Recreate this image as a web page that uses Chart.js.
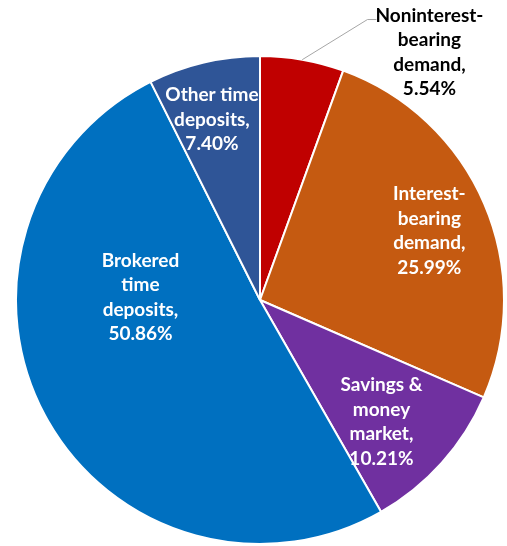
<!DOCTYPE html>
<html>
<head>
<meta charset="utf-8">
<script src="https://cdn.jsdelivr.net/npm/chart.js@4.4.1/dist/chart.umd.min.js"></script>
<style>
  body { margin: 0; background: #fff; }
  #wrap { width: 507px; height: 546px; }
</style>
</head>
<body>
<div id="wrap"><canvas id="myChart" width="507" height="546"></canvas></div>
<script>
// deposit mix, clockwise from 12 o'clock
const categories = ["Noninterest-bearing demand", "Interest-bearing demand", "Savings & money market", "Brokered time deposits", "Other time deposits"];
const categoryLines = [
  ["Noninterest-", "bearing", "demand,"],
  ["Interest-", "bearing", "demand,"],
  ["Savings &", "money", "market,"],
  ["Brokered", "time", "deposits,"],
  ["Other time", "deposits,"]
];
const shares = [5.54, 25.99, 10.21, 50.86, 7.40];
const sliceColors = ["#C00000", "#C55A11", "#7030A0", "#0070C0", "#2F5597"];

// where each label sits: radius factor and angle shift (deg) from the slice bisector
const labelSpots = [
  { r: 1.23, shift: 24.4, outside: true },
  { r: 0.75, shift: 1 },
  { r: 0.705, shift: 3.2 },
  { r: 0.49, shift: 29.4 },
  { r: 0.765, shift: -1.6 }
];

const pieLabels = {
  id: "pieLabels",
  afterDatasetsDraw(chart) {
    const ctx = chart.ctx;
    const arcs = chart.getDatasetMeta(0).data;
    ctx.save();
    ctx.font = "bold 19px Lato, 'Liberation Sans', sans-serif";
    ctx.textAlign = "center";
    ctx.textBaseline = "middle";
    arcs.forEach(function(arc, i) {
      const spot = labelSpots[i];
      const mid = (arc.startAngle + arc.endAngle) / 2 + spot.shift * Math.PI / 180;
      const cx = arc.x + Math.cos(mid) * arc.outerRadius * spot.r;
      const cy = arc.y + Math.sin(mid) * arc.outerRadius * spot.r;
      const lines = categoryLines[i].concat([shares[i].toFixed(2) + "%"]);
      const lh = 24.5;
      const top = cy - (lines.length - 1) * lh / 2;
      if (spot.outside) {
        // leader line from the slice edge to the label
        const bis = (arc.startAngle + arc.endAngle) / 2;
        ctx.strokeStyle = "#A6A6A6";
        ctx.lineWidth = 1;
        ctx.beginPath();
        ctx.moveTo(arc.x + Math.cos(bis) * arc.outerRadius, arc.y + Math.sin(bis) * arc.outerRadius);
        ctx.lineTo(cx - 62, top + 4);
        ctx.lineTo(cx - 53, top + 4);
        ctx.stroke();
      }
      ctx.fillStyle = spot.outside ? "#000000" : "#FFFFFF";
      lines.forEach(function(t, k) {
        ctx.fillText(t, cx, top + k * lh);
      });
    });
    ctx.restore();
  }
};

new Chart("myChart", {
  type: "pie",
  data: {
    labels: categories,
    datasets: [{
      data: shares,
      backgroundColor: sliceColors,
      borderColor: "#FFFFFF",
      borderWidth: 2
    }]
  },
  options: {
    responsive: false,
    animation: false,
    layout: { padding: { left: 15, right: 2, top: 55, bottom: 1 } },
    plugins: {
      legend: { display: false },
      tooltip: { enabled: false }
    }
  },
  plugins: [pieLabels]
});
</script>
</body>
</html>
